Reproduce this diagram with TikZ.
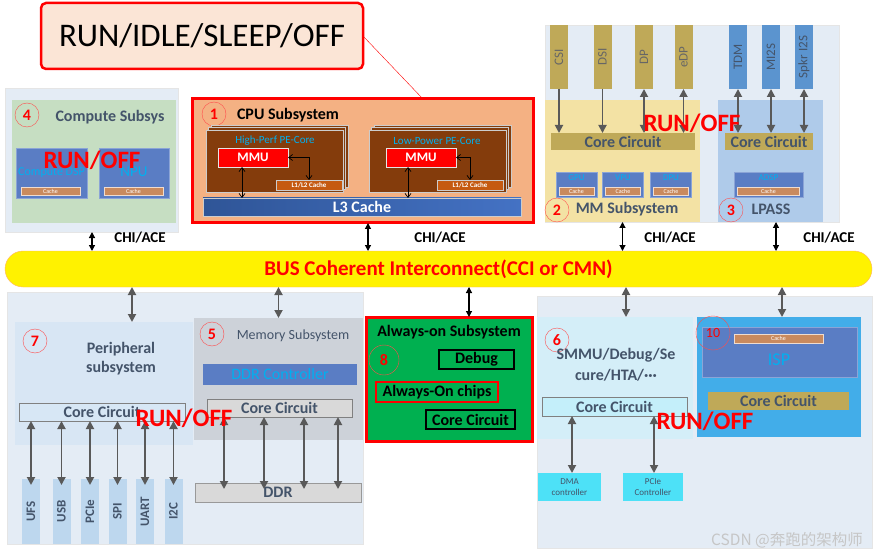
\documentclass[tikz,border=0pt]{standalone}
\usepackage{fontspec}
\setmainfont{Carlito}
\newfontfamily\cjkfont{Noto Sans CJK SC}
\usetikzlibrary{arrows.meta,shadows}

\definecolor{dotbg}{HTML}{E4ECF5}
\definecolor{cmpgreen}{HTML}{C6DEC2}
\definecolor{ipblue}{HTML}{5A7DC4}
\definecolor{ipcyan}{HTML}{00B0F0}
\definecolor{cachebr}{HTML}{C98A5E}
\definecolor{cpuorange}{HTML}{F4B183}
\definecolor{corebrown}{HTML}{843C0C}
\definecolor{l1brown}{HTML}{C55A11}
\definecolor{l3dark}{HTML}{2F5597}
\definecolor{l3light}{HTML}{4472C4}
\definecolor{mmyellow}{HTML}{F3E2A4}
\definecolor{lpblue}{HTML}{AFCBEA}
\definecolor{olive}{HTML}{BFA958}
\definecolor{barblue}{HTML}{5B94CF}
\definecolor{slate}{HTML}{44546A}
\definecolor{pbar}{HTML}{BDD7EE}
\definecolor{perbg}{HTML}{D8E6F4}
\definecolor{membg}{HTML}{CDD2D9}
\definecolor{ccgray}{HTML}{D9D9D9}
\definecolor{aogreen}{HTML}{00B050}
\definecolor{smmubg}{HTML}{D4EEF8}
\definecolor{cccyan}{HTML}{C4EFFA}
\definecolor{dmacyan}{HTML}{4DE1F7}
\definecolor{ispbg}{HTML}{42ADE9}
\definecolor{titlebg}{HTML}{FBE5D6}
\definecolor{arrgray}{HTML}{595959}

\tikzset{
  blk/.style={inner sep=0pt, outer sep=0pt},
  region/.style={blk, fill=dotbg, draw=gray!20},
  num/.style={circle, draw=red!70, thin, text=red, inner sep=0pt, minimum size=24, font=\bfseries\fontsize{16}{16}\selectfont},
  runoff/.style={text=red, font=\bfseries\fontsize{25}{25}\selectfont},
  cc/.style={blk, draw=gray, text=slate, minimum height=18, font=\bfseries\fontsize{16}{16}\selectfont},
  cache/.style={blk, fill=cachebr, draw=white!70!cachebr, text=white, minimum height=8, font=\fontsize{6}{6}\selectfont},
  ipbox/.style={blk, fill=ipblue, draw=ipblue!70!white},
  iptxt/.style={text=ipcyan, font=\fontsize{9}{9}\selectfont},
  obar/.style={blk, fill=olive, text=black!60, minimum width=18, minimum height=64, font=\fontsize{13}{13}\selectfont},
  bbar/.style={blk, fill=barblue, text=slate, minimum width=18, minimum height=64, font=\fontsize{13}{13}\selectfont},
  pbarbox/.style={blk, fill=pbar, text=slate, minimum width=18, minimum height=65, font=\bfseries\fontsize{13}{13}\selectfont},
  chi/.style={font=\bfseries\fontsize{15}{15}\selectfont},
  garrow/.style={{Triangle[length=8pt,width=8pt]}-{Triangle[length=8pt,width=8pt]}, line width=1.8pt, arrgray},
  gdown/.style={-{Triangle[length=8pt,width=8pt]}, line width=1.8pt, arrgray},
  barrow/.style={{Triangle[length=6pt,width=6pt]}-{Triangle[length=6pt,width=6pt]}, line width=1.2pt, black},
  thinarr/.style={{Straight Barb[length=4pt,width=6pt]}-{Straight Barb[length=4pt,width=6pt]}, line width=0.7pt, black},
}

\begin{document}
\begin{tikzpicture}[x=1pt,y=-1pt]
  \useasboundingbox (0,0) rectangle (878,556);
  \fill[white] (0,0) rectangle (878,556);

  % Power state label
  \node[blk, draw=red, line width=2.5pt, rounded corners=5pt, fill=titlebg, minimum width=322, minimum height=66, font=\fontsize{33}{33}\selectfont] (title) at (202,36) {RUN/IDLE/SLEEP/OFF};

  % Compute subsystem
  \node[region, minimum width=173, minimum height=144] (cmpOut) at (92,160) {};
  \node[blk, fill=cmpgreen, minimum width=164, minimum height=123] (cmp) at (94,161.5) {};
  \node[num] (n4) at (27,115) {4};
  \node[text=slate, font=\bfseries\fontsize{16}{16}\selectfont] (cmpT) at (110,117) {Compute Subsys};
  \node[ipbox, minimum width=71, minimum height=50] (dsp) at (51.5,173) {};
  \node[text=ipcyan, font=\fontsize{12}{12}\selectfont] (dspT) at (51.5,173) {Compute DSP};
  \node[cache, minimum width=59] (dspC) at (50.5,191) {Cache};
  \node[ipbox, minimum width=70, minimum height=50] (npu) at (134,173) {};
  \node[text=ipcyan, font=\fontsize{15}{15}\selectfont] (npuT) at (134,172) {NPU};
  \node[cache, minimum width=59] (npuC) at (133.5,191) {Cache};
  \node[runoff] (ro4) at (92,160) {RUN/OFF};

  % CPU subsystem
  \node[blk, draw=red, line width=3pt, fill=cpuorange, minimum width=341, minimum height=124] (cpu) at (362.5,161) {};
  \coordinate (cpuTap) at (423,99);
  \draw[red, thin] (title.east) -- (cpuTap);
  \node[num] (n1) at (214,114) {1};
  \node[font=\bfseries\fontsize{16}{16}\selectfont] (cpuT) at (288,115) {CPU Subsystem};
  \node[blk, fill=corebrown, draw=gray!40, double copy shadow={shadow xshift=2.5pt, shadow yshift=2.5pt}, minimum width=137, minimum height=62] (hp) at (274.5,161) {};
  \node[text=ipcyan, font=\fontsize{11}{11}\selectfont] (hpT) at (275,141) {High-Perf PE-Core};
  \node[blk, fill=red, draw=white!80!gray, text=white, minimum width=70, minimum height=19, font=\bfseries\fontsize{13}{13}\selectfont] (mmu1) at (253,157.5) {MMU};
  \node[blk, fill=l1brown, draw=gray!40, text=white, minimum width=66, minimum height=10, font=\bfseries\fontsize{7}{7}\selectfont] (l1a) at (309,185) {L1/L2 Cache};
  \node[blk, fill=corebrown, draw=gray!40, double copy shadow={shadow xshift=2.5pt, shadow yshift=2.5pt}, minimum width=137, minimum height=62] (lpc) at (437.5,161) {};
  \node[text=ipcyan, font=\fontsize{11}{11}\selectfont] (lpcT) at (437,141) {Low-Power PE-Core};
  \node[blk, fill=red, draw=white!80!gray, text=white, minimum width=70, minimum height=19, font=\bfseries\fontsize{13}{13}\selectfont] (mmu2) at (421,157.5) {MMU};
  \node[blk, fill=l1brown, draw=gray!40, text=white, minimum width=66, minimum height=10, font=\bfseries\fontsize{7}{7}\selectfont] (l1b) at (470,185) {L1/L2 Cache};
  \node[blk, left color=l3dark, right color=l3light, draw=gray!40, text=white, minimum width=318, minimum height=18, font=\bfseries\fontsize{16}{16}\selectfont] (l3) at (362,207) {L3 Cache};
  \draw[thinarr] (mmu1.east) -| (l1a.north);
  \draw[thinarr] (mmu2.east) -| (l1b.north);
  \draw[thinarr] ([xshift=-11pt]mmu1.south) -- ([xshift=-11pt]mmu1.south |- l3.north);
  \draw[thinarr] ([xshift=-13pt]mmu2.south) -- ([xshift=-13pt]mmu2.south |- l3.north);

  % MM subsystem and LPASS
  \node[region, minimum width=294, minimum height=197] (mmOut) at (692,123.5) {};
  \node[blk, fill=mmyellow, minimum width=155, minimum height=122] (mm) at (622.5,161) {};
  \node[blk, fill=lpblue, minimum width=105, minimum height=122] (lp) at (770.5,161) {};
  \node[obar] (csi) at (559,57) {\rotatebox{90}{CSI}};
  \node[obar] (dsi) at (602.5,57) {\rotatebox{90}{DSI}};
  \node[obar] (dp) at (644,57) {\rotatebox{90}{DP}};
  \node[obar] (edp) at (683.5,57) {\rotatebox{90}{eDP}};
  \node[bbar] (tdm) at (738,57) {\rotatebox{90}{TDM}};
  \node[bbar] (mi2s) at (771,57) {\rotatebox{90}{MI2S}};
  \node[bbar] (spkr) at (804,57) {\rotatebox{90}{Spkr I2S}};
  \node[cc, fill=olive, draw=none, minimum width=144, minimum height=17] (cc2) at (623,141.5) {Core Circuit};
  \node[cc, fill=olive, draw=none, minimum width=88, minimum height=17] (cc3) at (769,141.5) {Core Circuit};
  \draw[gdown] (csi.south) -- (csi.south |- cc2.north);
  \draw[gdown] (dsi.south) -- (dsi.south |- cc2.north);
  \draw[garrow] (dp.south) -- (dp.south |- cc2.north);
  \draw[garrow] (edp.south) -- (edp.south |- cc2.north);
  \draw[garrow] (tdm.south) -- (tdm.south |- cc3.north);
  \draw[garrow] (mi2s.south) -- (mi2s.south |- cc3.north);
  \draw[garrow] (spkr.south) -- (spkr.south |- cc3.north);
  \node[ipbox, minimum width=41, minimum height=25] (gpu) at (576.5,184.5) {};
  \node[iptxt] (gpuT) at (576.5,178) {GPU};
  \node[cache, minimum width=35] (gpuC) at (576.5,191) {Cache};
  \node[ipbox, minimum width=41, minimum height=25] (vpu) at (623,184.5) {};
  \node[iptxt] (vpuT) at (623,178) {VPU};
  \node[cache, minimum width=35] (vpuC) at (623,191) {Cache};
  \node[ipbox, minimum width=41, minimum height=25] (dpu) at (671,184.5) {};
  \node[iptxt] (dpuT) at (671,178) {DPU};
  \node[cache, minimum width=35] (dpuC) at (671,191) {Cache};
  \node[ipbox, minimum width=69, minimum height=25] (adsp) at (768.5,184.5) {};
  \node[iptxt] (adspT) at (768.5,178) {ADSP};
  \node[cache, minimum width=62] (adspC) at (768.5,191) {Cache};
  \node[num] (n2) at (557,210) {2};
  \node[text=slate, font=\bfseries\fontsize{16}{16}\selectfont] (mmT) at (627,209) {MM Subsystem};
  \node[num] (n3) at (731,210) {3};
  \node[text=slate, font=\bfseries\fontsize{16}{16}\selectfont] (lpT) at (771,209) {LPASS};
  \node[runoff] (ro2) at (692,123) {RUN/OFF};

  % Bus
  \node[blk, fill=yellow, draw=orange!60, rounded corners=18pt, minimum width=867, minimum height=36, text=red, font=\bfseries\fontsize{21}{21}\selectfont] (bus) at (438.5,269) {BUS Coherent Interconnect(CCI or CMN)};
  \node[chi] (chi1) at (140,238) {CHI/ACE};
  \node[chi] (chi2) at (440,238) {CHI/ACE};
  \node[chi] (chi3) at (670,238) {CHI/ACE};
  \node[chi] (chi4) at (829,238) {CHI/ACE};
  \coordinate (tapCpu) at (368,0);
  \coordinate (tapLp) at (776,0);
  \draw[barrow] (cmpOut.south) -- (cmpOut.south |- bus.north);
  \draw[barrow] (tapCpu |- cpu.south) -- (tapCpu |- bus.north);
  \draw[barrow] (mm.south) -- (mm.south |- bus.north);
  \draw[barrow] (tapLp |- lp.south) -- (tapLp |- bus.north);

  % Peripheral and memory subsystems
  \node[region, minimum width=356, minimum height=252] (botL) at (185,418) {};
  \node[blk, fill=perbg, minimum width=178, minimum height=123] (per) at (104,383.5) {};
  \node[blk, fill=membg, minimum width=169, minimum height=122] (mem) at (278.5,379) {};
  \coordinate (tapPer) at (132,0);
  \draw[garrow] (tapPer |- bus.south) -- (tapPer |- per.north);
  \draw[garrow] (bus.south -| mem.north) -- (mem.north);
  \node[num] (n7) at (35,341) {7};
  \node[text=slate, align=center, font=\bfseries\fontsize{16}{19}\selectfont] (perT) at (121,359) {Peripheral\\subsystem};
  \node[cc, fill=pbar!60, minimum width=166] (cc7) at (102,412) {Core Circuit};
  \node[pbarbox] (ufs) at (31,511.5) {\rotatebox{90}{UFS}};
  \node[pbarbox] (usb) at (61.5,511.5) {\rotatebox{90}{USB}};
  \node[pbarbox] (pcie) at (90,511.5) {\rotatebox{90}{PCIe}};
  \node[pbarbox] (spi) at (117.5,511.5) {\rotatebox{90}{SPI}};
  \node[pbarbox] (uart) at (145,511.5) {\rotatebox{90}{UART}};
  \node[pbarbox] (i2c) at (173.5,511.5) {\rotatebox{90}{I2C}};
  \draw[garrow] (ufs.north |- cc7.south) -- ([yshift=-6pt]ufs.north);
  \draw[garrow] (usb.north |- cc7.south) -- ([yshift=-6pt]usb.north);
  \draw[garrow] (pcie.north |- cc7.south) -- ([yshift=-6pt]pcie.north);
  \draw[garrow] (spi.north |- cc7.south) -- ([yshift=-6pt]spi.north);
  \draw[garrow] (uart.north |- cc7.south) -- ([yshift=-6pt]uart.north);
  \draw[garrow] (i2c.north |- cc7.south) -- ([yshift=-6pt]i2c.north);
  \node[num] (n5) at (212,334) {5};
  \node[text=slate, font=\fontsize{14}{14}\selectfont] (memT) at (293,336) {Memory Subsystem};
  \node[blk, fill=ipblue, text=ipcyan, minimum width=154, minimum height=21, font=\fontsize{16}{16}\selectfont] (ddrc) at (280,374.5) {DDR Controller};
  \node[cc, fill=ccgray, minimum width=145] (cc5) at (279.5,408) {Core Circuit};
  \node[cc, fill=ccgray, draw=gray!80, minimum width=166, minimum height=19] (ddr) at (278,492.5) {DDR};
  \coordinate (tapD1) at (224,0);
  \coordinate (tapD2) at (264,0);
  \coordinate (tapD3) at (304,0);
  \coordinate (tapD4) at (338,0);
  \draw[garrow] (tapD1 |- cc5.south) -- ([yshift=-6pt]tapD1 |- ddr.north);
  \draw[garrow] (tapD2 |- cc5.south) -- ([yshift=-6pt]tapD2 |- ddr.north);
  \draw[garrow] (tapD3 |- cc5.south) -- ([yshift=-6pt]tapD3 |- ddr.north);
  \draw[garrow] (tapD4 |- cc5.south) -- ([yshift=-6pt]tapD4 |- ddr.north);
  \node[runoff] (ro7) at (184,418) {RUN/OFF};

  % Always-on subsystem
  \node[blk, draw=red, line width=3pt, fill=aogreen, minimum width=166, minimum height=124] (ao) at (449,379) {};
  \node[font=\bfseries\fontsize{16}{16}\selectfont] (aoT) at (449,332) {Always-on Subsystem};
  \node[num, minimum size=30] (n8) at (384,360) {8};
  \node[blk, draw=black, line width=1.5pt, minimum width=75, minimum height=19, font=\bfseries\fontsize{16}{16}\selectfont] (dbg) at (476.5,359.5) {Debug};
  \node[blk, draw=red, line width=2pt, minimum width=122, minimum height=20, font=\bfseries\fontsize{16}{16}\selectfont] (aoc) at (437,392) {Always-On chips};
  \node[blk, draw=black, line width=1.5pt, minimum width=89, minimum height=19, font=\bfseries\fontsize{16}{16}\selectfont] (cc8) at (470.5,419.5) {Core Circuit};
  \coordinate (tapAo) at (469,0);
  \draw[barrow] (tapAo |- bus.south) -- (tapAo |- ao.north);

  % SMMU and ISP
  \node[region, minimum width=335, minimum height=252] (botR) at (704.5,422) {};
  \node[blk, fill=smmubg, minimum width=156, minimum height=122] (r6) at (615,378) {};
  \node[blk, fill=ispbg, minimum width=164, minimum height=120] (r10) at (779,377) {};
  \coordinate (tapR6) at (626,0);
  \coordinate (tapIsp) at (782,0);
  \draw[garrow] (tapR6 |- bus.south) -- (tapR6 |- r6.north);
  \draw[garrow] (tapIsp |- bus.south) -- (tapIsp |- r10.north);
  \node[num] (n6) at (557,340) {6};
  \node[text=slate, align=center, font=\bfseries\fontsize{16}{21}\selectfont] (r6T) at (616,365) {SMMU/Debug/Se\\cure/HTA/···};
  \node[cc, fill=cccyan, minimum width=145, minimum height=19] (cc6) at (614.5,406.5) {Core Circuit};
  \node[blk, fill=dmacyan, text=slate, align=center, minimum width=63, minimum height=28, font=\fontsize{9}{11}\selectfont] (dma) at (569.5,487) {DMA\\controller};
  \node[blk, fill=dmacyan, text=slate, align=center, minimum width=60, minimum height=28, font=\fontsize{9}{11}\selectfont] (pciec) at (653,487) {PCIe\\Controller};
  \coordinate (tapDma) at (572,0);
  \coordinate (tapPc) at (654,0);
  \draw[garrow] (tapDma |- cc6.south) -- (tapDma |- dma.north);
  \draw[garrow] (tapPc |- cc6.south) -- (tapPc |- pciec.north);
  \node[ipbox, minimum width=155, minimum height=50] (isp) at (779.5,352) {};
  \node[cache, minimum width=89, minimum height=9] (ispC) at (778.5,338.5) {Cache};
  \node[text=ipcyan, font=\fontsize{18}{18}\selectfont] (ispT) at (779,360) {ISP};
  \node[num, minimum size=34, font=\fontsize{14}{14}\selectfont] (n10) at (713,333) {10};
  \node[cc, fill=olive, draw=none, minimum width=141] (cc10) at (778.5,401) {Core Circuit};
  \node[runoff] (ro6) at (705,421) {RUN/OFF};

  % Watermark
  \node[text=gray!45, font=\cjkfont\fontsize{15.5}{15.5}\selectfont] (wm) at (787,540) {CSDN @奔跑的架构师};
\end{tikzpicture}
\end{document}
